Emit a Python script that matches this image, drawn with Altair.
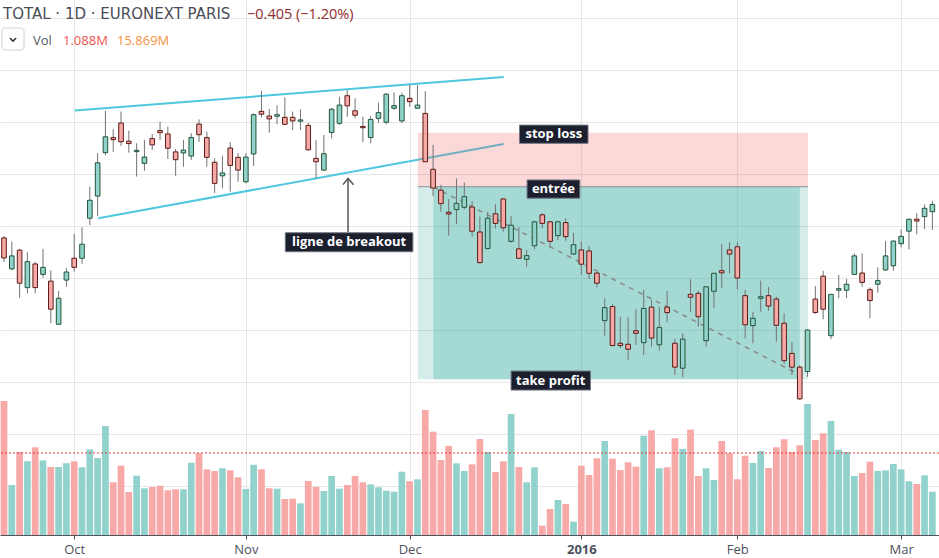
import altair as alt
import pandas as pd

# ---------------- data ----------------
open_ = [39.54, 38.35, 39.07, 37.63, 38.54, 38.14, 37.88, 36.22, 37.92, 38.76,
         38.76, 40.30, 41.15, 42.82, 43.40, 43.96, 43.26, 42.86, 42.41, 43.36,
         43.67, 43.54, 42.85, 42.81, 42.69, 43.92, 43.40, 42.45, 41.93, 43.00,
         42.64, 41.70, 42.77, 44.41, 44.23, 44.22, 44.18, 44.18, 44.03, 43.87,
         42.60, 42.15, 43.60, 43.95, 45.01, 44.43, 43.83, 43.40, 44.14, 43.99,
         44.53, 44.04, 44.91, 44.53, 44.33, 42.18, 41.38, 40.53, 40.63, 40.72,
         40.73, 39.77, 39.13, 40.47, 41.04, 39.41, 39.12, 38.72, 39.24, 40.43,
         40.16, 39.63, 40.13, 38.92, 39.08, 39.04, 38.19, 36.36, 36.90, 35.49,
         35.45, 35.97, 35.51, 36.88, 35.43, 36.88, 35.49, 34.53, 37.37, 37.41,
         35.59, 37.49, 38.28, 39.08, 39.20, 37.32, 36.17, 37.22, 37.32, 37.19,
         36.26, 35.10, 34.57, 34.40, 37.19, 38.07, 35.78, 37.53, 37.53, 38.14,
         38.19, 37.55, 37.76, 38.31, 38.47, 39.32, 39.80, 40.26, 40.36, 40.55]

close_ = [38.77, 38.85, 37.80, 38.63, 37.63, 38.41, 36.80, 37.22, 38.23, 38.41,
          39.30, 40.99, 42.43, 43.43, 43.32, 43.24, 43.17, 42.91, 42.65, 43.12,
          43.59, 42.99, 42.55, 42.92, 43.40, 43.51, 42.64, 41.64, 42.04, 42.33,
          42.15, 42.65, 44.28, 44.30, 44.12, 44.28, 43.91, 44.04, 44.08, 42.93,
          42.47, 42.78, 44.49, 44.65, 44.62, 44.26, 43.78, 44.10, 44.36, 45.07,
          44.63, 45.01, 44.78, 44.65, 42.47, 41.46, 40.86, 40.46, 40.87, 41.13,
          39.80, 38.59, 40.30, 40.10, 39.93, 40.03, 38.76, 38.86, 40.16, 40.10,
          39.41, 40.16, 39.59, 39.28, 38.53, 38.18, 37.80, 36.86, 35.40, 35.40,
          35.26, 35.87, 36.83, 35.69, 36.10, 36.67, 34.57, 35.65, 37.26, 36.51,
          37.66, 38.18, 38.20, 38.92, 38.00, 36.20, 36.45, 37.28, 36.92, 36.18,
          34.82, 34.57, 33.35, 36.00, 36.67, 36.80, 37.37, 37.59, 37.76, 38.85,
          37.83, 37.13, 37.90, 38.85, 39.42, 39.60, 40.26, 40.19, 40.68, 40.83]

high_ = [39.62, 39.40, 39.12, 38.99, 38.63, 39.12, 38.30, 37.50, 38.37, 39.69,
         39.95, 41.51, 42.80, 44.43, 43.72, 44.40, 43.67, 43.18, 43.31, 43.54,
         44.01, 43.82, 42.96, 43.31, 43.57, 44.10, 43.63, 42.60, 42.70, 43.23,
         42.80, 42.80, 44.33, 45.20, 44.50, 44.64, 44.95, 44.40, 44.49, 43.97,
         43.31, 43.50, 44.54, 44.97, 45.23, 44.91, 44.20, 44.23, 44.74, 45.10,
         45.14, 45.13, 45.42, 45.42, 45.19, 43.12, 41.58, 41.03, 41.83, 41.67,
         40.95, 40.36, 40.55, 40.83, 41.06, 40.38, 39.95, 39.08, 40.20, 40.49,
         40.19, 40.19, 40.30, 39.74, 39.40, 39.23, 38.24, 37.22, 36.99, 36.51,
         36.49, 36.80, 37.54, 37.15, 36.90, 37.50, 35.67, 35.87, 37.95, 37.51,
         37.69, 38.20, 39.30, 39.37, 39.37, 37.54, 36.70, 37.90, 37.66, 37.28,
         36.64, 35.53, 34.65, 36.03, 37.69, 38.28, 37.38, 38.12, 37.96, 38.95,
         38.95, 37.64, 38.41, 39.42, 39.44, 39.87, 40.27, 40.49, 40.83, 40.97]

low_ = [38.62, 38.31, 37.23, 37.41, 37.41, 38.01, 36.26, 36.21, 37.66, 38.24,
        38.53, 40.04, 40.38, 42.72, 42.85, 43.08, 42.82, 41.90, 42.12, 42.92,
        43.31, 42.58, 41.93, 42.28, 42.54, 43.24, 42.28, 41.26, 41.45, 41.32,
        41.70, 41.64, 42.31, 44.17, 43.59, 43.91, 43.90, 43.69, 43.69, 42.90,
        41.83, 42.12, 43.37, 43.88, 44.20, 44.14, 43.22, 43.18, 43.97, 43.91,
        44.46, 43.95, 44.59, 44.52, 42.46, 41.15, 40.55, 39.63, 40.07, 40.64,
        39.59, 38.56, 39.10, 39.91, 39.78, 39.36, 38.75, 38.43, 39.10, 39.91,
        39.18, 39.46, 39.43, 38.88, 38.12, 37.96, 37.64, 35.78, 35.38, 35.30,
        34.85, 35.42, 35.04, 35.36, 35.20, 36.30, 34.27, 34.18, 36.70, 36.13,
        35.36, 36.83, 37.60, 38.18, 37.56, 35.68, 35.49, 36.70, 36.74, 35.55,
        34.69, 34.27, 33.31, 34.20, 36.62, 36.41, 35.64, 37.22, 37.22, 38.12,
        37.66, 36.45, 37.43, 38.28, 38.28, 39.18, 39.10, 39.68, 39.88, 39.85]

volume = [25.93, 9.68, 16.06, 14.26, 16.97, 14.45, 13.16, 13.16, 13.87, 14.26,
          13.10, 16.58, 14.90, 21.09, 10.20, 13.41, 8.32, 11.47, 9.04, 9.29,
          9.54, 8.65, 8.84, 8.84, 13.99, 15.81, 12.71, 12.38, 12.91, 12.52,
          11.17, 8.90, 13.60, 12.71, 9.04, 8.96, 6.97, 7.02, 6.13, 10.45,
          9.29, 8.51, 11.42, 8.96, 9.68, 11.42, 10.20, 9.81, 9.23, 8.57,
          8.38, 12.25, 10.39, 10.78, 24.19, 19.99, 14.51, 17.22, 13.87, 12.38,
          13.68, 18.58, 16.06, 12.19, 14.26, 23.41, 13.16, 10.20, 13.10, 1.80,
          5.03, 6.77, 6.00, 2.57, 13.41, 11.61, 14.84, 18.19, 14.76, 12.58,
          14.07, 13.22, 19.22, 20.26, 12.91, 13.10, 18.71, 16.64, 20.38, 11.42,
          12.91, 10.64, 18.19, 15.81, 10.78, 15.35, 13.93, 16.25, 12.96, 16.97,
          18.52, 16.06, 17.36, 25.35, 18.38, 19.68, 22.06, 16.51, 16.06, 11.42,
          12.00, 14.18, 12.38, 12.52, 13.74, 12.71, 10.39, 9.87, 11.55, 8.38]

vol_line = [15.869]

tick_pos = [9, 31, 52, 74, 94, 115]
tick_labels = ["Oct", "Nov", "Dec", "2016", "Feb", "Mar"]
grid_prices = [30, 32, 34, 36, 38, 40, 42, 44, 46, 48]

# channel lines (bar index, price)
upper_k = [9.07, 64.05]
upper_p = [44.44, 45.73]
lower_k = [12.09, 64.05]
lower_p = [40.30, 43.15]

# position tool: stop zone, target zone, inner target zone
stop_zone = {"k1": [53.05], "k2": [103.07], "p1": [43.59], "p2": [41.51]}
target_zone = {"k1": [53.05], "k2": [103.07], "p1": [41.51], "p2": [34.11]}
inner_zone = {"k1": [55.04], "k2": [102.0], "p1": [41.51], "p2": [34.11]}
entry_line = {"k1": [53.05], "k2": [103.07], "p": [41.51]}

dash_k = [55.04, 102.03]
dash_p = [41.50, 34.27]

arrow_k = [44.1, 44.1]
arrow_p = [41.81, 39.77]
head_k = [43.46, 44.1, 44.81]
head_p = [41.59, 41.83, 41.59]

label_text = ["ligne de breakout", "stop loss", "entrée", "take profit"]
label_k1 = [36.06, 66.08, 67.05, 65.0]
label_k2 = [52.41, 74.86, 73.81, 75.17]
label_p1 = [39.74, 43.88, 41.77, 34.42]
label_p2 = [39.01, 43.18, 41.07, 33.69]

# ---------------- tables ----------------
n = len(open_)
df = pd.DataFrame({"k": list(range(n)), "open": open_, "high": high_,
                   "low": low_, "close": close_, "volume": volume})
df["dir"] = ["up" if c >= o else "down" for o, c in zip(open_, close_)]

X_DOMAIN = [0.127, 119.21]
P_DOMAIN = [28.115, 48.692]
V_DOMAIN = [0, 103.53]

xscale = alt.Scale(domain=X_DOMAIN, nice=False, zero=False)
pscale = alt.Scale(domain=P_DOMAIN, nice=False, zero=False)
vscale = alt.Scale(domain=V_DOMAIN, nice=False, zero=False)

expr = "''"
for pos, lab in reversed(list(zip(tick_pos, tick_labels))):
    expr = f"datum.value == {pos} ? '{lab}' : ({expr})"
year_tests = " || ".join(f"datum.value == {p}" for p, l in zip(tick_pos, tick_labels) if l.isdigit())

x_axis = alt.Axis(values=tick_pos, labelExpr=expr, grid=True, gridColor="#e6e6e6",
                  gridWidth=1, domainColor="#50535e", tickColor="#50535e", tickSize=4,
                  labelColor="#4c525e", labelFont="Open Sans", labelFontSize=13,
                  labelPadding=4, title=None, labelFlush=False, labelOverlap=False,
                  labelFontWeight={"condition": {"test": year_tests, "value": "bold"},
                                   "value": "normal"})


def X(field):
    return alt.X(field, type="quantitative", scale=xscale, axis=x_axis)


def P(field, axis=None):
    return alt.Y(field, type="quantitative", scale=pscale, axis=axis)


p_axis = alt.Axis(values=grid_prices, grid=True, gridColor="#e6e6e6", gridWidth=1,
                  labels=False, ticks=False, domain=False, title=None)

dir_fill = alt.Scale(domain=["up", "down"], range=["#6ba583", "#d75442"])
dir_stroke = alt.Scale(domain=["up", "down"], range=["#225437", "#5b1a13"])
vol_fill = alt.Scale(domain=["up", "down"], range=["#92d2cc", "#f7a9a7"])

base = alt.Chart(df)

vol_bars = base.mark_bar(size=6.7, clip=True).encode(
    x=X("k"),
    y=alt.Y("volume:Q", scale=vscale, axis=None),
    fill=alt.Fill("dir:N", scale=vol_fill, legend=None),
)

vol_rule = alt.Chart(pd.DataFrame({"v": vol_line})).mark_rule(
    color="#e53935", strokeDash=[2, 2], strokeWidth=1).encode(
    y=alt.Y("v:Q", scale=vscale, axis=None))

grid_layer = base.mark_rule(opacity=0).encode(x=X("k"), y=P("low", p_axis))

lines_df = pd.DataFrame({"k": upper_k + lower_k, "p": upper_p + lower_p,
                         "line": ["upper"] * 2 + ["lower"] * 2})
channel = alt.Chart(lines_df).mark_line(color="#4fc8df", strokeWidth=2).encode(
    x=X("k"), y=P("p"), detail="line:N")


def zone(d, color, op):
    return alt.Chart(pd.DataFrame(d)).mark_rect(fill=color, opacity=op).encode(
        x=X("k1"), x2="k2", y=P("p1"), y2="p2")


stop_rect = zone(stop_zone, "#ef5350", 0.22)
target_rect = zone(target_zone, "#26a69a", 0.2)
inner_rect = zone(inner_zone, "#26a69a", 0.28)

entry_rule = alt.Chart(pd.DataFrame(entry_line)).mark_rule(
    color="#8d9099", strokeWidth=1).encode(x=X("k1"), x2="k2", y=P("p"))

dash_line = alt.Chart(pd.DataFrame({"k": dash_k, "p": dash_p})).mark_line(
    color="#8a8a8a", strokeWidth=1.5, strokeDash=[5, 5]).encode(x=X("k"), y=P("p"))

wicks = base.mark_rule(color="#737375", strokeWidth=1, clip=True).encode(
    x=X("k"), y=P("low"), y2="high")

bodies = base.mark_bar(size=4.6, strokeWidth=1, clip=True, opacity=1).encode(
    x=X("k"), y=P("open"), y2="close",
    fill=alt.Fill("dir:N", scale=dir_fill, legend=None),
    stroke=alt.Stroke("dir:N", scale=dir_stroke, legend=None),
)

arrow_shaft = alt.Chart(pd.DataFrame({"k": arrow_k, "p": arrow_p})).mark_line(
    color="#555555", strokeWidth=1.5).encode(x=X("k"), y=P("p"))
arrow_head = alt.Chart(pd.DataFrame({"k": head_k, "p": head_p, "o": [0, 1, 2]})).mark_line(
    color="#555555", strokeWidth=1.5).encode(x=X("k"), y=P("p"), order="o:Q")

labels = pd.DataFrame({"t": label_text, "k1": label_k1, "k2": label_k2,
                       "p1": label_p1, "p2": label_p2})
labels["kc"] = (labels["k1"] + labels["k2"]) / 2
labels["pc"] = (labels["p1"] + labels["p2"]) / 2
label_box = alt.Chart(labels).mark_rect(fill="#1b1f2e", stroke="#6f7380", strokeWidth=1).encode(
    x=X("k1"), x2="k2", y=P("p1"), y2="p2")
label_txt = alt.Chart(labels).mark_text(color="white", font="Open Sans", fontSize=13,
                                        fontWeight="bold", baseline="middle",
                                        align="center").encode(
    x=X("kc"), y=P("pc"), text="t:N")


def header(txt, x, y, color, size, font="Open Sans"):
    return alt.Chart(pd.DataFrame({"t": [txt]})).mark_text(
        align="left", baseline="alphabetic", font=font, fontSize=size,
        color=color).encode(text="t:N", x=alt.value(x), y=alt.value(y))


h1 = header("TOTAL · 1D · EURONEXT PARIS", 3, 18.5, "#4a4d57", 15, "DejaVu Sans")
h2 = header("−0.405 (−1.20%)", 247, 18.5, "#8f2b2b", 14.5)
h3 = header("Vol", 33, 45, "#55585f", 13)
h4 = header("1.088M", 63, 45, "#ef5350", 13)
h5 = header("15.869M", 117, 45, "#f7913d", 13)
chev_box = alt.Chart(pd.DataFrame({"a": [0]})).mark_rect(
    fill="white", stroke="#cfd1d6", strokeWidth=1, cornerRadius=3).encode(
    x=alt.value(2), x2=alt.value(24), y=alt.value(28), y2=alt.value(50))
chev = alt.Chart(pd.DataFrame({"a": [0]})).mark_point(
    shape="M-1,-0.5L0,0.5L1,-0.5", filled=False, size=40, color="#333333",
    strokeWidth=1.5, opacity=1).encode(x=alt.value(13), y=alt.value(39.5))

chart = alt.layer(
    grid_layer, vol_bars, vol_rule, channel, stop_rect, target_rect, inner_rect,
    entry_rule, dash_line, wicks, bodies, arrow_shaft, arrow_head, label_box, label_txt,
    h1, h2, h3, h4, h5, chev_box, chev,
).resolve_scale(y="independent").properties(
    width=939, height=535, autosize=alt.AutoSizeParams(type="none"),
    padding={"left": 0, "top": 0, "right": 0, "bottom": 23},
    background="white",
).configure_view(stroke=None)

chart.save("out.html", embed_options={"renderer": "svg", "actions": False})
